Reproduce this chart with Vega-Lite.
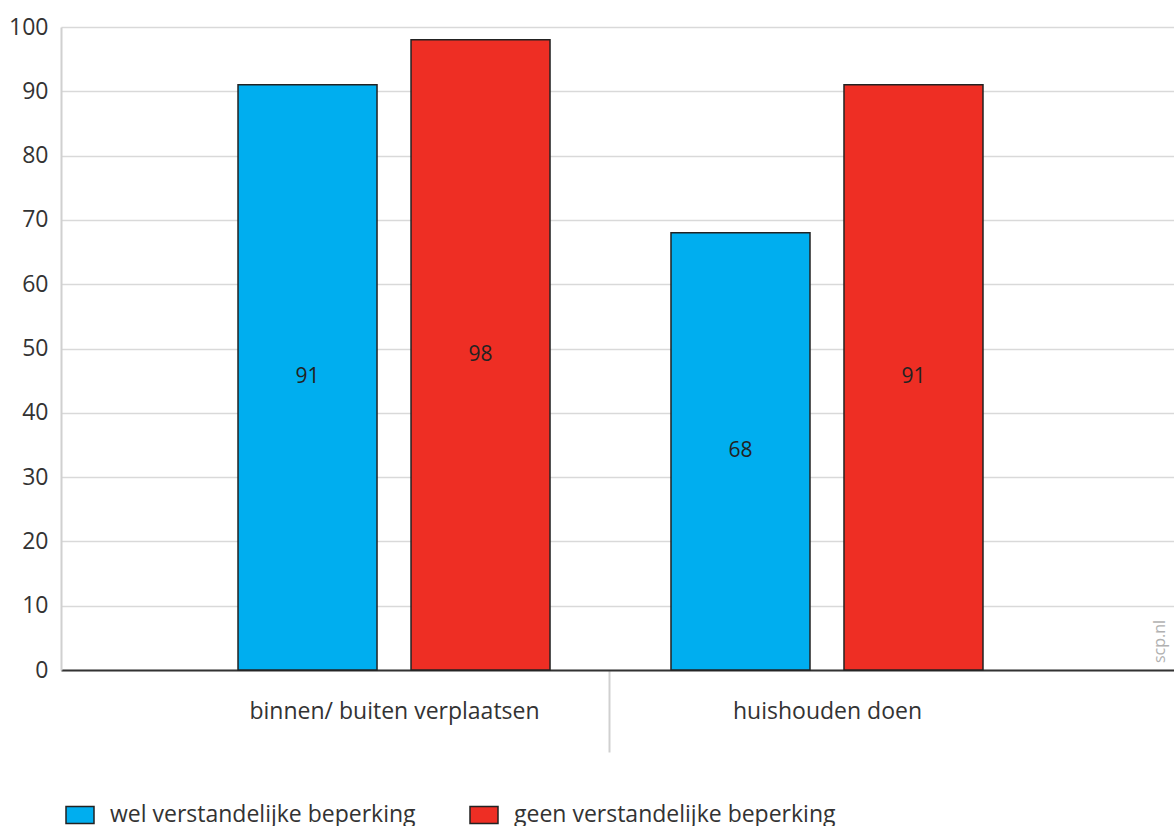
{
  "$schema": "https://vega.github.io/schema/vega-lite/v6.json",
  "autosize": "none",
  "width": 1113,
  "height": 643,
  "padding": {"left": 61, "top": 27, "right": 0, "bottom": 156},
  "background": "white",
  "config": {"font": "Open Sans", "view": {"stroke": null}},
  "title": {
    "text": "scp.nl",
    "orient": "right",
    "anchor": "end",
    "frame": "group",
    "angle": -90,
    "align": "left",
    "baseline": "alphabetic",
    "offset": -18,
    "dx": 7,
    "dy": -7,
    "fontSize": 16,
    "fontWeight": "normal",
    "color": "#b0b0b0",
    "font": "Open Sans"
  },
  "data": {
    "values": [
      {"activiteit": "binnen/ buiten verplaatsen", "groep": "wel verstandelijke beperking", "waarde": 91},
      {"activiteit": "binnen/ buiten verplaatsen", "groep": "geen verstandelijke beperking", "waarde": 98},
      {"activiteit": "huishouden doen", "groep": "wel verstandelijke beperking", "waarde": 68},
      {"activiteit": "huishouden doen", "groep": "geen verstandelijke beperking", "waarde": 91}
    ]
  },
  "encoding": {
    "x": {
      "field": "activiteit",
      "type": "nominal",
      "sort": null,
      "scale": {"paddingInner": 0.2794, "paddingOuter": 0.425, "align": 0.481},
      "axis": {
        "title": null,
        "labelAngle": 0,
        "labelFontSize": 23,
        "labelColor": "#333333",
        "labelFont": "Open Sans",
        "labelLimit": 0,
        "domainColor": "#333333",
        "domainWidth": 2,
        "grid": false,
        "tickSize": 82,
        "tickWidth": 2,
        "tickColor": {"condition": {"test": "datum.value === 'huishouden doen'", "value": "#d0d0d0"}, "value": "rgba(0,0,0,0)"},
        "tickOffset": -217.5,
        "labelOffset": 217.5,
        "labelPadding": -52
      }
    },
    "xOffset": {
      "field": "groep",
      "type": "nominal",
      "sort": ["wel verstandelijke beperking", "geen verstandelijke beperking"],
      "scale": {"paddingInner": 0.1965, "paddingOuter": 0}
    }
  },
  "layer": [
    {
      "mark": {"type": "bar", "stroke": "#222222", "strokeWidth": 1.5},
      "encoding": {
        "y": {
          "field": "waarde",
          "type": "quantitative",
          "scale": {"domain": [0, 100], "nice": false},
          "axis": {
            "title": null,
            "values": [0, 10, 20, 30, 40, 50, 60, 70, 80, 90, 100],
            "ticks": false,
            "labelFontSize": 23,
            "labelColor": "#333333",
            "labelFont": "Open Sans",
            "labelPadding": 13,
            "domainColor": "#d0d0d0",
            "domainWidth": 2,
            "gridColor": "#d9d9d9",
            "gridWidth": 1.5
          }
        },
        "color": {
          "field": "groep",
          "type": "nominal",
          "sort": ["wel verstandelijke beperking", "geen verstandelijke beperking"],
          "scale": {
            "domain": ["wel verstandelijke beperking", "geen verstandelijke beperking"],
            "range": ["#00aeef", "#ee2e24"]
          },
          "legend": {
            "orient": "none",
            "legendX": 4,
            "legendY": 773,
            "direction": "horizontal",
            "title": null,
            "symbolType": "M-1,-0.6H1V0.6H-1Z",
            "symbolSize": 784,
            "symbolStrokeColor": "#222222",
            "symbolStrokeWidth": 1.5,
            "symbolOpacity": 1,
            "labelFontSize": 23,
            "labelColor": "#333333",
            "labelFont": "Open Sans",
            "labelOffset": 15,
            "labelLimit": 0,
            "columnPadding": 51
          }
        }
      }
    },
    {
      "transform": [{"calculate": "datum.waarde / 2", "as": "midden"}],
      "mark": {"type": "text", "fontSize": 21, "color": "#222222", "font": "Open Sans", "baseline": "middle"},
      "encoding": {
        "y": {
          "field": "midden",
          "type": "quantitative",
          "scale": {"domain": [0, 100], "nice": false},
          "axis": {
            "title": null,
            "values": [0, 10, 20, 30, 40, 50, 60, 70, 80, 90, 100],
            "ticks": false,
            "labelFontSize": 23,
            "labelColor": "#333333",
            "labelFont": "Open Sans",
            "labelPadding": 13,
            "domainColor": "#d0d0d0",
            "domainWidth": 2,
            "gridColor": "#d9d9d9",
            "gridWidth": 1.5
          }
        },
        "text": {"field": "waarde", "type": "quantitative"}
      }
    }
  ]
}
